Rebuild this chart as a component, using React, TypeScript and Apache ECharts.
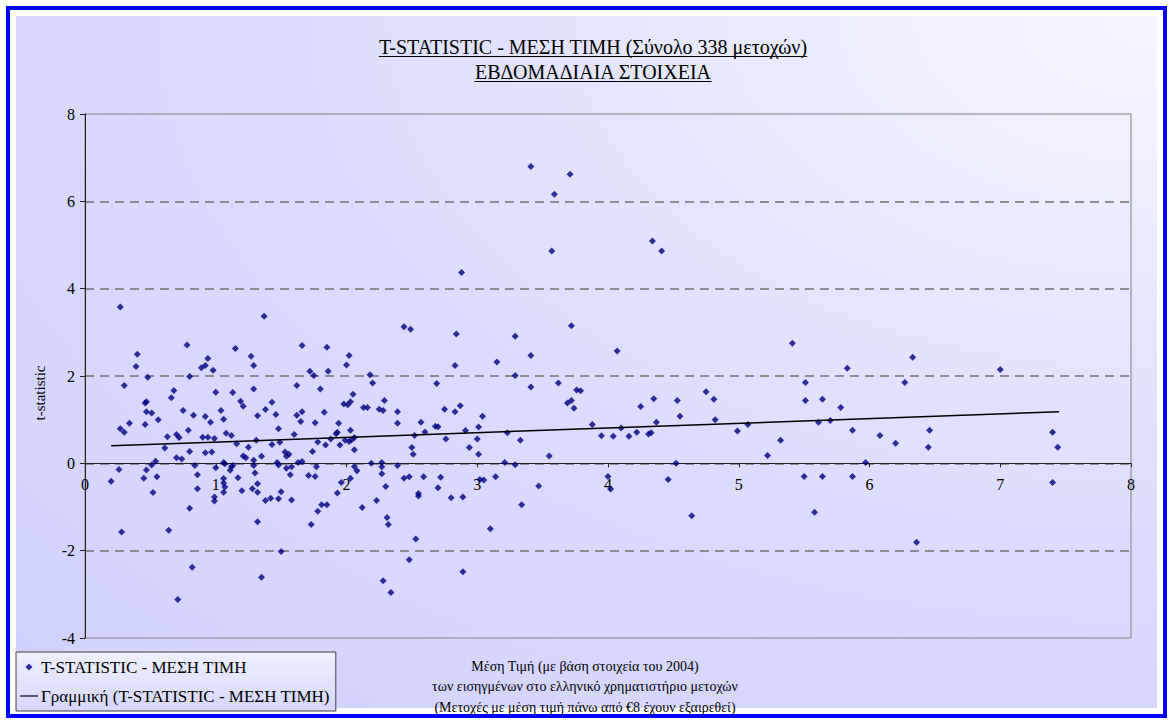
import React, { useEffect, useRef } from 'react';
import * as echarts from 'echarts';

// Mean price (x) and t-statistic (y)
const priceX = [
  0.78, 0.40, 0.39, 1.15, 1.27, 1.29, 0.94, 0.89, 0.92, 0.98,
  0.48, 0.80, 0.30, 0.68, 1.00, 1.13, 1.29, 0.66, 0.46, 0.47,
  1.19, 1.21, 0.47, 0.51, 0.75, 1.04, 0.83, 0.92, 1.32, 0.56,
  1.06, 0.96, 0.34, 0.46, 0.27, 0.30, 0.79, 1.08, 1.12, 0.63,
  0.70, 0.72, 0.90, 0.94, 0.99, 1.16, 0.61, 1.25, 0.80, 0.92,
  0.97, 0.70, 0.74, 1.21, 1.23, 1.29, 1.06, 1.07, 1.13, 1.12,
  0.84, 1.29, 1.00, 0.54, 0.51, 0.47, 0.26, 1.11, 0.86, 1.30,
  0.55, 0.45, 1.17, 0.20, 1.06, 1.06, 1.07, 1.06, 1.32, 1.28,
  0.86, 0.52, 0.80, 0.64, 0.28, 0.82, 0.71, 0.99, 0.99, 1.20,
  1.32, 1.32, 1.35, 0.27, 1.37, 2.44, 2.49, 1.66, 1.85, 2.02,
  2.00, 1.72, 1.75, 1.86, 2.18, 2.20, 1.62, 1.80, 2.05, 1.43,
  1.98, 2.01, 2.03, 2.29, 2.13, 2.16, 2.25, 2.28, 1.38, 2.39,
  2.39, 1.46, 1.62, 1.66, 1.65, 1.83, 1.76, 1.94, 2.57, 2.60,
  1.48, 2.03, 1.60, 1.92, 1.93, 1.88, 2.06, 2.04, 1.99, 2.02,
  1.31, 1.78, 2.52, 1.43, 1.49, 1.84, 1.95, 2.50, 2.51, 2.06,
  1.74, 1.53, 1.56, 1.54, 1.35, 1.63, 1.66, 1.47, 1.48, 2.19,
  2.27, 2.27, 2.39, 1.77, 1.54, 1.58, 2.06, 2.08, 1.57, 1.71,
  1.76, 2.27, 2.44, 2.48, 2.59, 2.03, 1.96, 2.30, 1.50, 1.38,
  1.42, 1.48, 1.58, 1.50, 1.73, 1.78, 1.81, 1.85, 1.93, 2.12,
  2.23, 2.31, 2.32, 2.55, 2.53, 2.48, 2.28, 2.34, 3.41, 3.71,
  3.59, 3.57, 2.88, 2.84, 3.29, 3.72, 4.07, 2.83, 3.15, 3.41,
  3.29, 2.69, 3.41, 3.62, 3.76, 3.79, 3.69, 3.72, 3.74, 2.75,
  2.83, 2.87, 3.04, 2.68, 2.70, 3.01, 3.88, 2.91, 3.23, 2.76,
  3.00, 3.33, 3.95, 4.04, 2.94, 3.01, 3.55, 3.21, 3.29, 2.72,
  2.70, 3.02, 3.05, 3.14, 3.47, 2.80, 2.89, 3.34, 4.00, 4.02,
  2.55, 4.75, 4.81, 4.35, 4.25, 4.53, 4.55, 4.82, 4.37, 4.10,
  4.22, 4.31, 4.33, 4.16, 4.99, 5.07, 5.32, 5.22, 4.52, 4.46,
  4.64, 4.34, 4.41, 5.41, 5.51, 5.51, 5.64, 5.78, 5.83, 5.70,
  5.61, 5.50, 5.64, 5.58, 5.87, 5.87, 5.97, 6.08, 6.20, 6.27,
  6.33, 6.36, 6.45, 6.46, 7.00, 7.40, 7.44, 7.40, 2.89, 3.10,
];
const tStat = [
  2.71, 2.50, 2.22, 2.63, 2.45, 2.24, 2.40, 2.19, 2.24, 2.13,
  1.97, 1.99, 1.78, 1.67, 1.63, 1.62, 1.70, 1.50, 1.38, 1.41,
  1.42, 1.31, 1.18, 1.15, 1.21, 1.21, 1.10, 1.07, 1.09, 1.00,
  1.01, 0.94, 0.92, 0.89, 0.79, 0.71, 0.76, 0.69, 0.64, 0.61,
  0.66, 0.59, 0.60, 0.60, 0.57, 0.45, 0.35, 0.37, 0.27, 0.24,
  0.26, 0.13, 0.10, 0.17, 0.13, 0.07, 0.02, -0.01, -0.05, -0.08,
  -0.05, -0.05, -0.10, 0.05, -0.04, -0.15, -0.14, -0.16, -0.26, -0.22,
  -0.31, -0.34, -0.33, -0.41, -0.35, -0.45, -0.54, -0.66, -0.47, -0.58,
  -0.58, -0.67, -1.03, -1.53, -1.57, -2.38, -3.12, -0.77, -0.86, -0.63,
  -0.66, -1.34, -2.61, 3.58, 3.37, 3.13, 3.07, 2.70, 2.66, 2.47,
  2.25, 2.11, 2.01, 2.11, 2.03, 1.84, 1.78, 1.70, 1.58, 1.40,
  1.36, 1.34, 1.41, 1.44, 1.28, 1.28, 1.24, 1.21, 1.23, 1.18,
  0.92, 1.12, 1.10, 1.18, 0.96, 1.17, 0.93, 0.92, 0.94, 0.72,
  0.79, 0.76, 0.66, 0.68, 0.71, 0.56, 0.59, 0.54, 0.53, 0.50,
  0.53, 0.49, 0.64, 0.43, 0.48, 0.42, 0.42, 0.36, 0.21, 0.31,
  0.27, 0.26, 0.21, 0.16, 0.16, 0.02, 0.04, 0.02, -0.04, 0.00,
  0.02, -0.08, -0.05, -0.08, -0.11, -0.08, -0.07, -0.17, -0.26, -0.28,
  -0.30, -0.24, -0.34, -0.31, -0.31, -0.34, -0.44, -0.53, -0.65, -0.85,
  -0.80, -0.81, -0.84, -2.02, -1.40, -1.10, -0.95, -0.95, -0.68, -1.01,
  -0.85, -1.24, -1.40, -0.75, -1.73, -2.21, -2.69, -2.96, 6.80, 6.62,
  6.16, 4.86, 4.37, 2.96, 2.91, 3.15, 2.57, 2.24, 2.32, 2.47,
  2.01, 1.83, 1.75, 1.84, 1.68, 1.66, 1.38, 1.44, 1.26, 1.24,
  1.18, 1.32, 1.08, 0.85, 0.84, 0.83, 0.89, 0.75, 0.70, 0.56,
  0.56, 0.53, 0.63, 0.62, 0.36, 0.21, 0.17, 0.02, -0.03, -0.32,
  -0.56, -0.37, -0.38, -0.31, -0.52, -0.79, -0.77, -0.95, -0.30, -0.59,
  -0.69, 1.64, 1.47, 1.48, 1.30, 1.44, 1.08, 1.00, 0.94, 0.81,
  0.71, 0.67, 0.70, 0.62, 0.74, 0.89, 0.53, 0.18, 0.00, -0.37,
  -1.20, 5.09, 4.86, 2.75, 1.85, 1.44, 1.47, 1.28, 2.18, 0.98,
  0.94, -0.30, -0.30, -1.12, -0.30, 0.76, 0.02, 0.64, 0.46, 1.85,
  2.43, -1.81, 0.37, 0.76, 2.15, 0.71, 0.37, -0.44, -2.48, -1.50,
];

// Linear trend line end points (Excel "Γραμμική")
const trendX = [0.2, 7.45];
const trendY = [0.40, 1.18];

const titleLines = ['T-STATISTIC - ΜΕΣΗ ΤΙΜΗ (Σύνολο 338 μετοχών)', 'ΕΒΔΟΜΑΔΙΑΙΑ ΣΤΟΙΧΕΙΑ'];
const xAxisNameLines = [
  'Μέση Τιμή (με βάση στοιχεία του 2004)',
  'των εισηγμένων στο ελληνικό χρηματιστήριο μετοχών',
  '(Μετοχές με μέση τιμή πάνω από €8 έχουν εξαιρεθεί)',
];
const yAxisName = 't-statistic';
const seriesNames = ['T-STATISTIC - ΜΕΣΗ ΤΙΜΗ', 'Γραμμική (T-STATISTIC - ΜΕΣΗ ΤΙΜΗ)'];
const xMin = 0, xMax = 8, xStep = 1;
const yMin = -4, yMax = 8, yStep = 2;

const FONT = '"Liberation Serif", "DejaVu Serif", serif';

export default function App() {
  const ref = useRef<HTMLDivElement>(null);
  useEffect(() => {
    const el = ref.current!;
    const chart = echarts.init(el, null, { renderer: 'svg' });
    const ctx = document.createElement('canvas').getContext('2d')!;
    const measure = (t: string, size: number) => {
      ctx.font = `${size}px "Liberation Serif"`;
      return ctx.measureText(t).width;
    };
    const titleSize = 20;
    const titleCx = 593;
    const titleYs = [47, 72];
    const underlines = titleLines.map((t, i) => {
      const w = measure(t, titleSize);
      return {
        type: 'line',
        z: 10,
        shape: { x1: titleCx - w / 2, y1: titleYs[i] + 9.5, x2: titleCx + w / 2, y2: titleYs[i] + 9.5 },
        style: { stroke: '#000', lineWidth: 1 },
      };
    });

    // plot box
    const gLeft = 85, gTop = 114, gRight = 42, gBottom = 84;
    const gHeight = 722 - gTop - gBottom;
    const zeroOffset = gHeight * (yMax - 0) / (yMax - yMin);

    const option: any = {
      animation: false,
      graphic: [
        {
          type: 'rect', z: -20, silent: true,
          shape: { x: 8, y: 8, width: 1157, height: 708 },
          style: { fill: '#ffffff', stroke: '#0000ff', lineWidth: 4 },
        },
        {
          type: 'rect', z: -19, silent: true,
          shape: { x: 16, y: 16, width: 1141, height: 692 },
          style: {
            fill: new echarts.graphic.RadialGradient(1, 0, 1.65, [
              { offset: 0, color: '#f6f6ff' },
              { offset: 0.45, color: '#dcdcff' },
              { offset: 1, color: '#ccccff' },
            ]),
          },
        },
        ...titleLines.map((t, i) => ({
          type: 'text', z: 10,
          style: {
            text: t, x: titleCx, y: titleYs[i],
            textAlign: 'center', textVerticalAlign: 'middle',
            align: 'center', verticalAlign: 'middle',
            font: `${titleSize}px ${FONT}`, fill: '#000',
          },
        })),
        ...underlines,
        ...xAxisNameLines.map((t, i) => ({
          type: 'text', z: 10,
          style: {
            text: t, x: 585, y: 666 + i * 20.5,
            textAlign: 'center', textVerticalAlign: 'middle',
            align: 'center', verticalAlign: 'middle',
            font: `14px ${FONT}`, fill: '#000',
          },
        })),
        {
          type: 'text', z: 10, x: 40, y: 393, rotation: Math.PI / 2,
          style: {
            text: yAxisName, x: 0, y: 0,
            textAlign: 'center', textVerticalAlign: 'middle',
            align: 'center', verticalAlign: 'middle',
            font: `15px ${FONT}`, fill: '#000',
          },
        },
      ],
      grid: [
        {
          left: gLeft, top: gTop, right: gRight, bottom: gBottom,
          show: true, borderColor: '#808080', borderWidth: 1, backgroundColor: 'transparent',
        },
        { left: gLeft, top: gTop, right: gRight, height: zeroOffset, show: false },
      ],
      legend: {
        orient: 'vertical', left: 16, top: 652,
        padding: [6, 6, 6, 4], itemGap: 11, itemWidth: 18, itemHeight: 18,
        selectedMode: false,
        borderColor: '#404040', borderWidth: 1,
        backgroundColor: new echarts.graphic.LinearGradient(0, 0, 0, 1, [
          { offset: 0, color: '#f0f0ff' },
          { offset: 1, color: '#d6d6ff' },
        ]),
        textStyle: { fontFamily: FONT, fontSize: 17, color: '#000', padding: [0, 0, 0, -2] },
        data: [
          { name: seriesNames[0], icon: 'path://M0,0M18,18M9,5.5L12.5,9L9,12.5L5.5,9Z' },
          { name: seriesNames[1], icon: 'path://M0,0M18,18M0,8.4L18,8.4L18,9.6L0,9.6Z' },
        ],
      },
      xAxis: [
        {
          gridIndex: 0, type: 'value', min: xMin, max: xMax, interval: xStep,
          axisLine: { show: false }, axisTick: { show: false }, axisLabel: { show: false },
          splitLine: { show: false },
        },
        {
          gridIndex: 1, type: 'value', min: xMin, max: xMax, interval: xStep,
          axisLine: { show: true, onZero: false, lineStyle: { color: '#202020', width: 1 } },
          axisTick: { show: true, inside: false, length: 4, lineStyle: { color: '#202020' } },
          axisLabel: { fontFamily: FONT, fontSize: 16, color: '#000', margin: 13 },
          splitLine: { show: false },
        },
      ],
      yAxis: [
        {
          gridIndex: 0, type: 'value', min: yMin, max: yMax, interval: yStep,
          axisLine: { show: true, onZero: false, lineStyle: { color: '#202020', width: 1 } },
          axisTick: { show: true, inside: false, length: 5, lineStyle: { color: '#202020' } },
          axisLabel: { fontFamily: FONT, fontSize: 16, color: '#000', margin: 10 },
          splitLine: {
            show: true, showMinLine: false, showMaxLine: false,
            lineStyle: { color: '#707070', type: [9, 6], width: 1.5 },
          },
        },
        { gridIndex: 1, type: 'value', min: 0, max: 1, show: false },
      ],
      series: [
        {
          name: seriesNames[0], type: 'scatter', xAxisIndex: 0, yAxisIndex: 0,
          symbol: 'diamond', symbolSize: 7,
          itemStyle: { color: '#000080' },
          data: priceX.map((x, i) => [x, tStat[i]]),
          z: 3,
        },
        {
          name: seriesNames[1], type: 'line', xAxisIndex: 0, yAxisIndex: 0,
          symbol: 'none', color: '#000',
          lineStyle: { color: '#000', width: 1.5 },
          data: trendX.map((x, i) => [x, trendY[i]]),
          z: 4,
        },
      ],
    };
    chart.setOption(option);
    return () => chart.dispose();
  }, []);
  return <div ref={ref} style={{ position: 'absolute', left: 0, top: 0, width: 1173, height: 722 }} />;
}
